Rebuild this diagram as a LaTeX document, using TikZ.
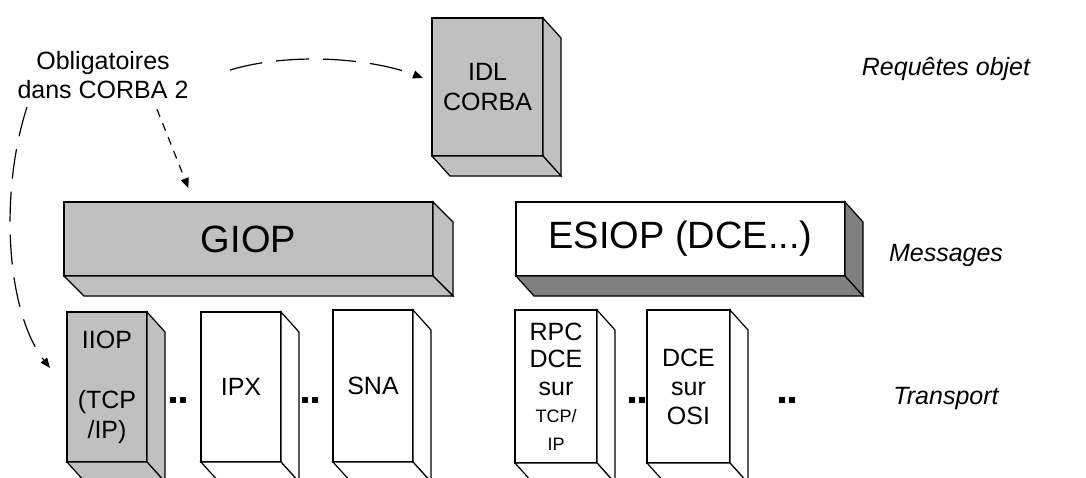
\documentclass[tikz,border=0pt]{standalone}
\usepackage{fontspec}
\setmainfont{Liberation Sans}
\usepackage{xcolor}
\usepackage{tikz}
\usetikzlibrary{arrows.meta}

\definecolor{gris}{RGB}{192,192,192}
\definecolor{grisfonce}{RGB}{128,128,128}

% faces de cote et de dessous d'une boite
\newcommand{\cotes}[3]{%
  \filldraw[fill=#2] (#1.north east) -- ++(#3,20) -- ([shift={(#3,20)}]#1.south east) -- (#1.south east) -- cycle;
  \filldraw[fill=#2] (#1.south west) -- ++(#3,20) -- ([shift={(#3,20)}]#1.south east) -- (#1.south east) -- cycle;}

\tikzset{
  boite/.style={draw, anchor=north west, inner sep=0pt, outer sep=0pt, align=center,
    font=\fontsize{25}{30}\selectfont},
  couche/.style={font=\fontsize{25}{30}\selectfont\itshape},
  fleche/.style={-{Triangle[length=10pt,width=8pt]}}
}

\begin{document}
\begin{tikzpicture}[x=1pt,y=-1pt,line width=1.2pt]
\clip (0,0) rectangle (1086,477);
\fill[white] (0,0) rectangle (1086,477);

\node[boite, fill=gris, minimum width=111, minimum height=138] (idl) at (432,18) {IDL\\CORBA};
\cotes{idl}{gris}{18}

\node[boite, fill=gris, minimum width=369, minimum height=74, font=\fontsize{38}{40}\selectfont] (giop) at (64,202) {GIOP};
\cotes{giop}{gris}{20}
\node[boite, fill=white, minimum width=329, minimum height=74, font=\fontsize{38}{40}\selectfont] (esiop) at (516,202) {ESIOP (DCE...)};
\cotes{esiop}{grisfonce}{18}

\node[boite, fill=gris, minimum width=80, minimum height=150] (iiop) at (67,312) {IIOP\\ \\(TCP\\/IP)};
\cotes{iiop}{gris}{18}
\node[boite, fill=white, minimum width=80, minimum height=150] (ipx) at (201,312) {IPX};
\cotes{ipx}{white}{18}
\node[boite, fill=white, minimum width=80, minimum height=152] (sna) at (333,310) {SNA};
\cotes{sna}{white}{18}
\node[boite, fill=white, minimum width=82, minimum height=153, font=\fontsize{25}{27.5}\selectfont] (rpc) at (515,310)
  {RPC\\DCE\\sur\\{\fontsize{18}{27.5}\selectfont TCP/}\\{\fontsize{18}{27.5}\selectfont IP}};
\cotes{rpc}{white}{18}
\node[boite, fill=white, minimum width=83, minimum height=153, font=\fontsize{25}{29}\selectfont] (osi) at (647,310) {DCE\\sur\\OSI};
\cotes{osi}{white}{18}

% les points de suite
\foreach \x in {178,310,637,787} {
  \fill (\x-8,397) rectangle ++(6,6);
  \fill (\x+2,397) rectangle ++(6,6);
}

\node[align=center, inner sep=0pt, font=\fontsize{25}{29}\selectfont] (oblig) at (103,75) {Obligatoires\\dans CORBA 2};

\node[couche] (req) at (946,69) {Requêtes objet};
\node[couche] (msg) at (946,255) {Messages};
\node[couche] (trans) at (946,398) {Transport};

\draw[fleche, dash pattern=on 33pt off 14pt] ([shift={(41,-5)}]oblig.east) .. controls (290,52) and (370,58) .. ([shift={(-9,-9)}]idl.west);
\draw[fleche, dash pattern=on 8pt off 7pt, shorten >=15pt] ([shift={(54,10)}]oblig.south) -- ([xshift=130pt]giop.north west);
\draw[fleche, dash pattern=on 30pt off 13pt] ([shift={(10,8)}]oblig.south west) .. controls (0,190) and (5,310) .. ([shift={(-17,-19)}]iiop.west);
\end{tikzpicture}
\end{document}
